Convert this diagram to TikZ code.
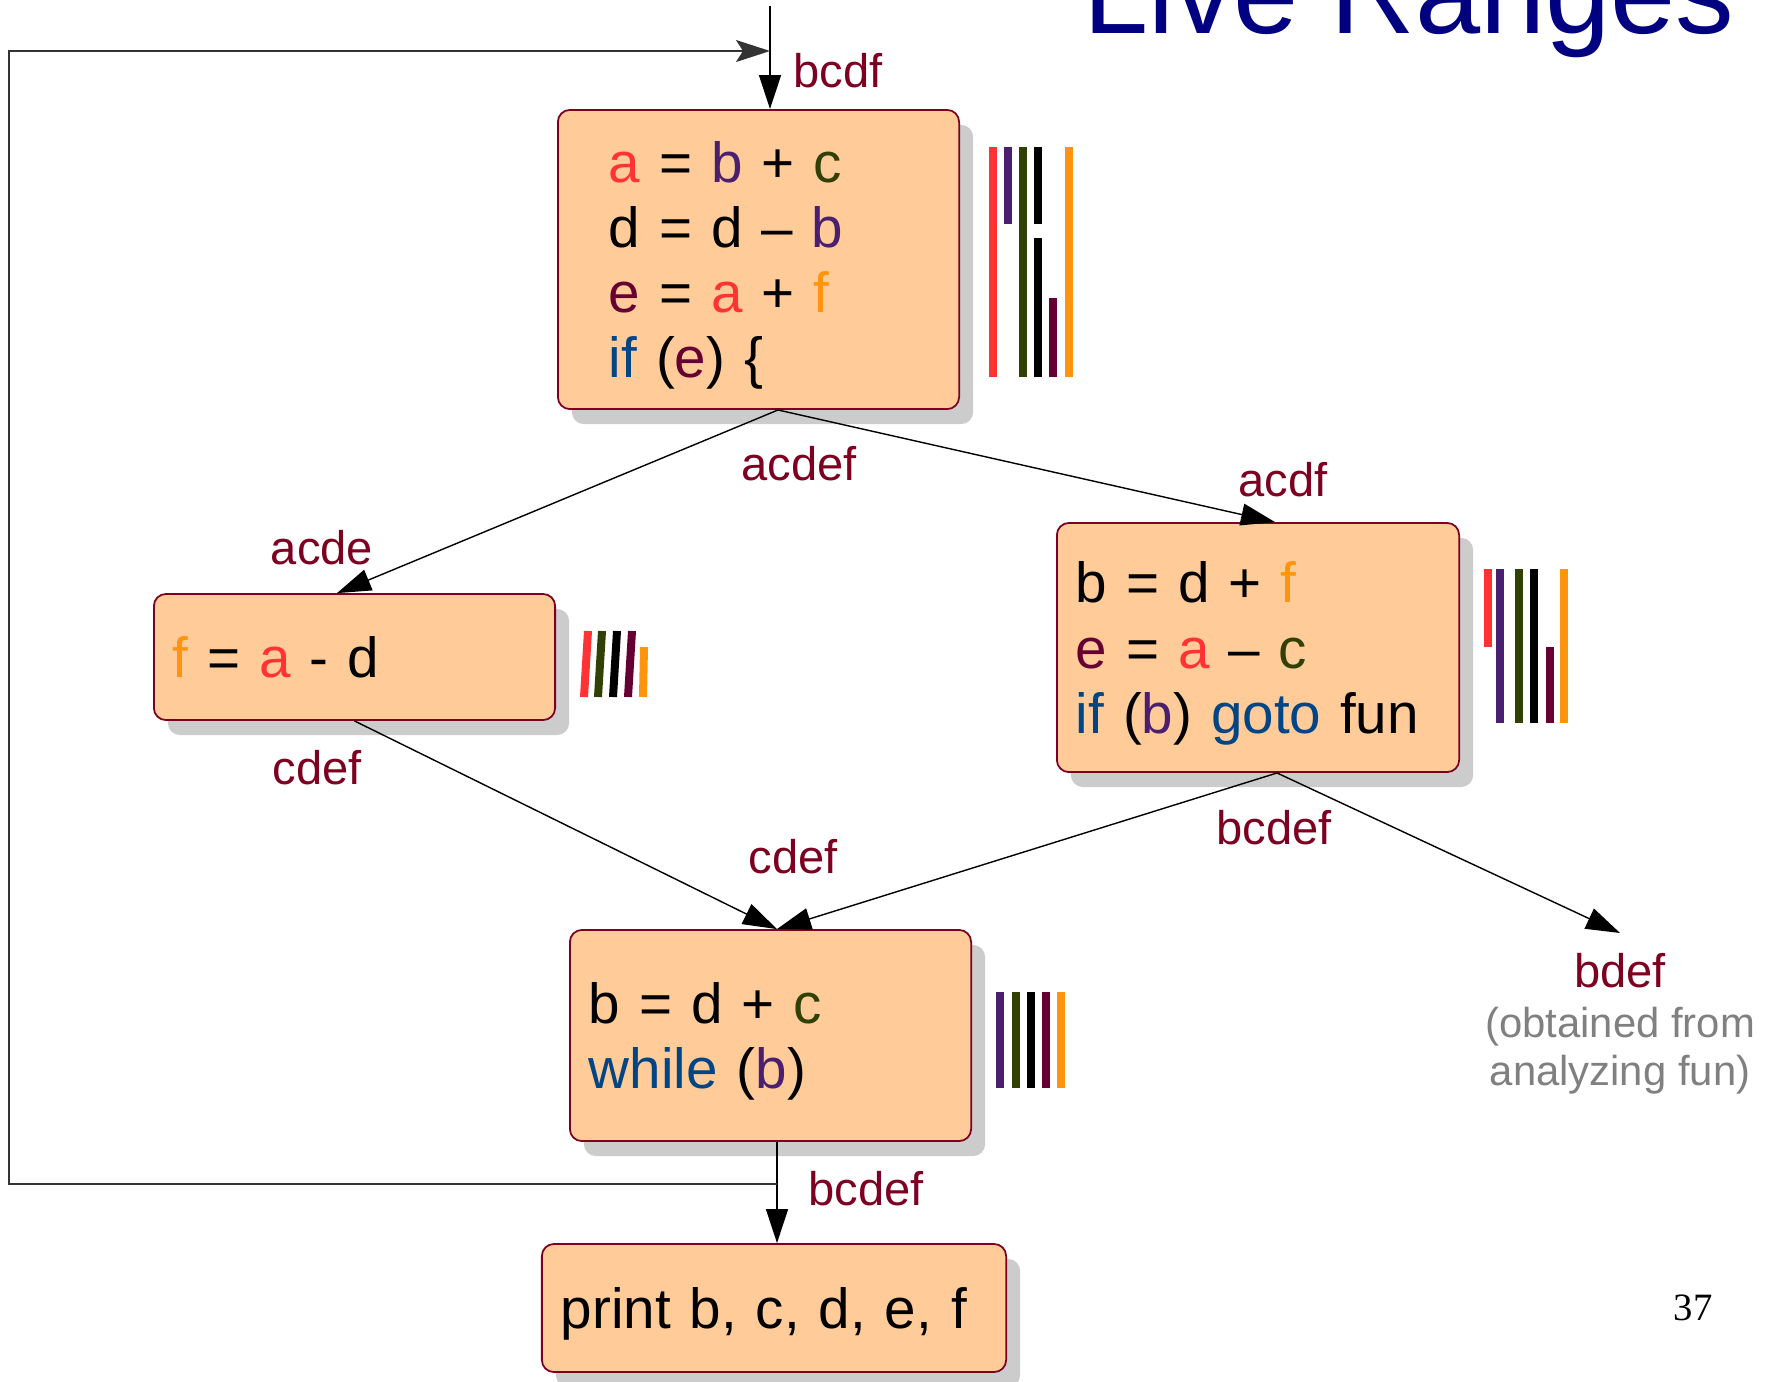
\documentclass[tikz,border=0pt]{standalone}
\usepackage{fontspec}
\setmainfont{Liberation Sans}
\newfontfamily\slidenumfont{Liberation Serif}
\usetikzlibrary{arrows.meta, positioning, shadows}
\definecolor{rangeRed}{HTML}{FF3333}
\definecolor{rangePurple}{HTML}{4B1F6F}
\definecolor{rangeOlive}{HTML}{314004}
\definecolor{rangeMaroon}{HTML}{660033}
\definecolor{rangeOrange}{HTML}{FF950E}
\definecolor{keyBlue}{HTML}{004586}
\definecolor{liveRed}{HTML}{7E0021}
\definecolor{titleNavy}{HTML}{000080}
\definecolor{blockFill}{HTML}{FFCC99}
\definecolor{shadowGray}{HTML}{CCCCCC}
\definecolor{remarkGray}{HTML}{808080}
\newcommand{\codefont}{\fontsize{16.1}{18.5}\selectfont}
\newcommand{\varA}{\textcolor{rangeRed}{a}}
\newcommand{\varB}{\textcolor{rangePurple}{b}}
\newcommand{\varC}{\textcolor{rangeOlive}{c}}
\newcommand{\varE}{\textcolor{rangeMaroon}{e}}
\newcommand{\varF}{\textcolor{rangeOrange}{f}}
\newcommand{\kw}[1]{\textcolor{keyBlue}{#1}}

\begin{document}
\begin{tikzpicture}[x=0.01cm, y=-0.01cm,
    block/.style={rounded corners=1.2mm, draw=liveRed, line width=0.5pt, fill=blockFill,
      drop shadow={shadow xshift=1.4mm, shadow yshift=-1.5mm, fill=shadowGray, opacity=1},
      align=left, inner ysep=0pt, inner xsep=1.9mm, font=\codefont},
    live/.style={text=liveRed, font=\fontsize{13.4}{16}\selectfont, inner sep=0pt},
    remark/.style={text=remarkGray, font=\fontsize{11.9}{13.7}\selectfont, align=center, inner sep=0pt},
    flow/.style={-{Triangle[length=3.4mm, width=2.2mm]}, line width=0.4pt},
    backflow/.style={-{Stealth[length=3.4mm, width=2.2mm, inset=0.7mm]}, line width=0.4pt, draw=black!80},
    liverange/.style={line width=0.8mm}
  ]
  \useasboundingbox (0,0) rectangle (1776,1381);
  \clip (0,0) rectangle (1776,1381);

  \node[text=titleNavy, font=\fontsize{33.3}{36}\selectfont, inner sep=0pt, anchor=base west] (title) at (1083,33) {Live Ranges};

  % basic blocks (text depth = lines below the first one)
  \node[block, inner xsep=5.1mm, text width=2.99cm, minimum height=2.99cm, text depth=55.5pt] (entry) at (758.5,259.5)
    {\varA{} = \varB{} + \varC\\ d = d – \varB\\ \varE{} = \varA{} + \varF\\ \kw{if} (\varE) \{};
  \node[block, text width=3.63cm, minimum height=1.26cm, text depth=0pt] (fblock) at (354.5,657)
    {\varF{} = \varA{} - d};
  \node[block, text width=3.64cm, minimum height=2.49cm, text depth=37pt] (gotoblock) at (1258,647.5)
    {b = d + \varF\\ \varE{} = \varA{} – \varC\\ \kw{if} (\varB) \kw{goto} fun};
  \node[block, text width=3.63cm, minimum height=2.11cm, text depth=18.5pt] (whileblock) at (770.5,1035.5)
    {b = d + \varC\\ \kw{while} (\varB)};
  \node[block, text width=4.26cm, minimum height=1.28cm, text depth=0pt] (printblock) at (774,1308)
    {print b, c, d, e, f};

  % live sets on the edges
  \node[live] (inlive) at (838,71) {bcdf};
  \node[live] (outlive) at (799,464) {acdef};
  \node[live] (fin) at (322,548) {acde};
  \node[live] (gotoin) at (1283,480) {acdf};
  \node[live] (fout) at (317,768) {cdef};
  \node[live] (whilein) at (793,857) {cdef};
  \node[live] (gotoout) at (1274,828) {bcdef};
  \node[live] (funin) at (1620,971) {bdef};
  \node[remark] (funnote) at (1620,1051) {(obtained from\\analyzing fun)};
  \node[live] (whileout) at (866,1189) {bcdef};

  \node[font=\slidenumfont\fontsize{11}{13}\selectfont, inner sep=0pt] (pageno) at (1693,1308) {37};

  % control flow
  \coordinate (feed) at (770,6);
  \coordinate (loopjoin) at (777,1184);
  \coordinate (loopcorner) at (9,51);
  \draw[flow] (feed) -- (feed |- entry.north);
  \draw[flow] ([xshift=1.95mm]entry.south) -- ([xshift=-1.75mm]fblock.north);
  \draw[flow] ([xshift=1.95mm]entry.south) -- ([xshift=1.7mm]gotoblock.north);
  \draw[flow] (fblock.south) -- ([xshift=0.65mm]whileblock.north);
  \draw[flow] ([xshift=1.9mm]gotoblock.south) -- ([xshift=0.65mm]whileblock.north);
  \draw[flow] ([xshift=1.9mm]gotoblock.south) -- ([yshift=2mm]funin.north);
  \draw[flow] ([xshift=0.65mm]whileblock.south) -- ([xshift=0.65mm]whileblock.south |- printblock.north);
  \draw[backflow] (loopjoin) -| (loopcorner) -- (feed |- loopcorner);

  % live ranges of a..f
  \draw[liverange, rangeRed] (993,147) -- (993,377);
  \draw[liverange, rangePurple] (1008,147) -- (1008,224);
  \draw[liverange, rangeOlive] (1023,147) -- (1023,377);
  \draw[liverange, black] (1038,147) -- (1038,224);
  \draw[liverange, black] (1038,238) -- (1038,377);
  \draw[liverange, rangeMaroon] (1053,298) -- (1053,377);
  \draw[liverange, rangeOrange] (1069,147) -- (1069,377);

  \draw[liverange, rangeRed] (584,697) -- (588,631);
  \draw[liverange, rangeOlive] (598,697) -- (602,631);
  \draw[liverange, black] (613,697) -- (617,631);
  \draw[liverange, rangeMaroon] (628,697) -- (632,631);
  \draw[liverange, rangeOrange] (643,697) -- (644,647);

  \draw[liverange, rangeRed] (1488,569) -- (1488,647);
  \draw[liverange, rangePurple] (1500,569) -- (1500,723);
  \draw[liverange, rangeOlive] (1519,569) -- (1519,723);
  \draw[liverange, black] (1534,569) -- (1534,723);
  \draw[liverange, rangeMaroon] (1550,647) -- (1550,723);
  \draw[liverange, rangeOrange] (1564,569) -- (1564,723);

  \foreach \x/\c in {1000/rangePurple, 1016/rangeOlive, 1031/black, 1046/rangeMaroon, 1061/rangeOrange}
    \draw[liverange, \c] (\x,992) -- (\x,1088);
\end{tikzpicture}
\end{document}
